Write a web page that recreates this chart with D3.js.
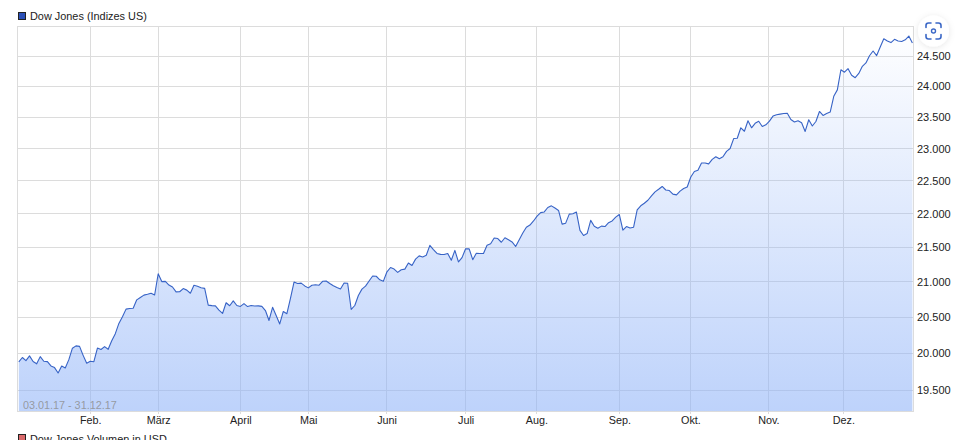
<!DOCTYPE html>
<html><head><meta charset="utf-8">
<script src="https://cdn.jsdelivr.net/npm/d3@7"></script>
<style>
html,body{margin:0;padding:0;background:#fff;overflow:hidden}
svg{display:block}
text{font-family:"Liberation Sans",Arial,sans-serif;font-size:10.9px;fill:#222}
</style></head><body><svg id="c" width="978" height="440"></svg>
<script>
const title = "Dow Jones (Indizes US)";
const title2 = "Dow Jones Volumen in USD";
const rangeLabel = "03.01.17 - 31.12.17";
const monthLabels = ["Feb.","März","April","Mai","Juni","Juli","Aug.","Sep.","Okt.","Nov.","Dez."];
const monthIndex = [20,39,62,81,102.9,125,144.8,168,187.9,209.7,230.7];
const yTicks = [19500,20000,20500,21000,21500,22000,22500,23000,23500,24000,24500];
const closes = [
19882,19942,19899,19964,19887,19856,19954,19891,19886,19827,19805,19732,19827,19800,19913,20069,20101,20094,19971,19864,
19891,19885,20071,20052,20090,20054,20172,20269,20412,20504,20612,20620,20624,20743,20776,20810,20822,20837,20812,
21116,21003,21006,20954,20925,20856,20858,20903,20881,20837,20950,20935,20915,20906,20668,20661,20657,20597,20551,20702,20659,20728,20663,
20650,20689,20648,20663,20656,20658,20651,20592,20453,20637,20523,20404,20579,20548,20764,20996,20975,20981,20941,
20913,20950,20958,20951,21007,21012,20976,20943,20919,20897,20982,20980,20607,20663,20805,20895,20938,21012,21083,21080,21029,21009,
21144,21206,21184,21136,21174,21183,21272,21236,21328,21375,21360,21384,21529,21467,21410,21397,21395,21410,21311,21455,21287,21350,
21479,21478,21320,21414,21409,21409,21532,21553,21638,21630,21575,21641,21612,21580,21513,21613,21711,21797,21830,21891,
21964,22016,22026,22093,22118,22085,22049,21844,21858,21994,21999,22025,21751,21675,21704,21900,21812,21783,21814,21808,21865,21892,21948,
21988,21753,21808,21785,21798,22057,22119,22158,22203,22268,22331,22371,22413,22359,22350,22296,22284,22341,22381,22405,
22558,22642,22662,22775,22774,22761,22831,22873,22841,22872,22957,23002,23158,23163,23329,23274,23442,23329,23401,23434,23349,23377,
23435,23516,23539,23548,23557,23563,23462,23422,23440,23409,23271,23458,23358,23430,23591,23526,23558,23581,23837,23941,24272,
24232,24290,24181,24141,24211,24329,24386,24505,24585,24509,24652,24792,24755,24727,24782,24754,24746,24774,24838,24719
];

const svg = d3.select("#c");
const L=17.5,R=913.5,T=26.5,B=411.5;
const x = d3.scaleLinear().domain([0,closes.length-1]).range([18.8,912.4]);
const y = d3.scaleLog().domain([19220,25000]).range([B,T]);
const px = v => Math.floor(v)+.5;

const defs = svg.append("defs");
const g = defs.append("linearGradient").attr("id","fill")
  .attr("gradientUnits","userSpaceOnUse").attr("x1",0).attr("x2",0).attr("y1",T).attr("y2",B);
g.append("stop").attr("offset",0).attr("stop-color","#8eb2f8").attr("stop-opacity",0);
g.append("stop").attr("offset",1).attr("stop-color","#8eb2f8").attr("stop-opacity",.58);
const sh = defs.append("filter").attr("id","sh").attr("x","-50%").attr("y","-50%").attr("width","200%").attr("height","200%");
sh.append("feDropShadow").attr("dx",0).attr("dy",1).attr("stdDeviation",3).attr("flood-color","#000").attr("flood-opacity",.1);

// grid
const grid = svg.append("g").attr("stroke","#dcdcdc").attr("stroke-width",1).attr("shape-rendering","crispEdges");
grid.selectAll(".h").data(yTicks).join("line").attr("class","h")
  .attr("x1",L).attr("x2",R).attr("y1",d=>px(y(d))).attr("y2",d=>px(y(d)));
grid.selectAll(".v").data(monthIndex).join("line").attr("class","v")
  .attr("x1",d=>px(x(d))).attr("x2",d=>px(x(d))).attr("y1",T).attr("y2",B+2);
grid.append("rect").attr("x",L).attr("y",T).attr("width",R-L).attr("height",B-T).attr("fill","none");

// area + line
const idx = d3.range(closes.length);
svg.append("path").datum(idx).attr("fill","url(#fill)")
  .attr("d",d3.area().x(i=>x(i)).y0(B-.5).y1(i=>y(closes[i])));
svg.append("path").datum(idx).attr("fill","none").attr("stroke","#3763c6").attr("stroke-width",1.1).attr("stroke-linejoin","round")
  .attr("d",d3.line().x(i=>x(i)).y(i=>y(closes[i])));

// axes labels
const yAxis = d3.axisRight(y).tickValues(yTicks).tickSize(0).tickPadding(0)
  .tickFormat(d=>d3.format(",")(d).replace(",","."));
const ya = svg.append("g").attr("transform",`translate(917,0)`).call(yAxis);
ya.select(".domain").remove();
ya.selectAll("text").style("font-family",'"Liberation Sans",Arial,sans-serif').style("font-size","11px").attr("fill","#222").attr("x",0);

const xAxis = d3.axisBottom(d3.scaleOrdinal().domain(monthLabels).range(monthIndex.map(x))).tickSize(0).tickPadding(0);
const xa = svg.append("g").attr("transform",`translate(0,416)`).call(xAxis);
xa.select(".domain").remove();
xa.selectAll("text").style("font-family",'"Liberation Sans",Arial,sans-serif').style("font-size","10.8px").attr("fill","#222").attr("y",0).attr("dy","0.71em");

// date range
svg.append("text").attr("x",23).attr("y",408.5).style("font-size","10.8px").style("fill","#8a8a8a").style("fill-opacity",.8).text(rangeLabel);

// legends
function legend(yy,sy,col,t){
  svg.append("rect").attr("x",18.5).attr("y",sy+.5).attr("width",7).attr("height",7).attr("fill",col).attr("stroke","#222").attr("stroke-width",1);
  svg.append("text").attr("x",30).attr("y",yy+8).text(t);
}
legend(12,12,"#2b50b8",title);
legend(435,434,"#d9696a",title2);

// camera button
const btn = svg.append("g").attr("transform","translate(933.5,31)");
btn.append("circle").attr("r",15.5).attr("fill","#fff").attr("filter","url(#sh)");
btn.append("path").attr("fill","none").attr("stroke","#3a67c6").attr("stroke-width",1.6).attr("stroke-linecap","round")
  .attr("d","M-7.5,-3.5V-5.5A2.5,2.5 0 0 1 -5,-8H-2.5 M2.5,-8H5A2.5,2.5 0 0 1 7.5,-5.5V-3.5 M7.5,3.5V5.5A2.5,2.5 0 0 1 5,8H2.5 M-2.5,8H-5A2.5,2.5 0 0 1 -7.5,5.5V3.5");
btn.append("circle").attr("r",2).attr("fill","none").attr("stroke","#3a67c6").attr("stroke-width",1.4);
</script></body></html>
